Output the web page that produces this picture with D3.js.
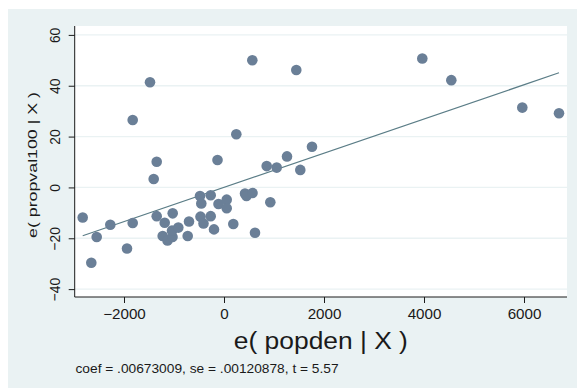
<!DOCTYPE html>
<html><head><meta charset="utf-8">
<script src="https://cdn.jsdelivr.net/npm/d3@7"></script>
<style>html,body{margin:0;padding:0;background:#fff;}svg{display:block;font-family:Arial,"Liberation Sans",Helvetica,sans-serif;}</style>
</head><body><svg id="c" width="577" height="388"></svg>
<script>
// residual of popden given X
const xResid = [-2826,-2546,-2654,-2274,-1940,-1826,-1826,-1480,-1406,-1346,-1346,-1186,-1226,-1130,-1030,-1040,-1026,-914,-726,-700,-480,-454,-470,-410,-266,-266,-200,-130,-110,54,54,186,246,420,450,570,566,620,926,854,1054,1260,1446,1526,1760,3966,4546,5966,6700];
// residual of propval100 given X
const yResid = [-11.8,-19.5,-29.6,-14.7,-24.0,-14.0,26.5,41.4,3.3,10.1,-11.3,-13.9,-19.1,-20.9,-19.5,-17.0,-10.2,-15.8,-19.1,-13.4,-3.4,-6.3,-11.5,-14.2,-3.1,-11.3,-16.5,10.8,-6.5,-4.8,-8.2,-14.4,20.9,-2.4,-3.4,-2.2,50.0,-17.8,-5.8,8.4,7.8,12.2,46.2,6.9,16.0,50.7,42.2,31.4,29.2];
const xTicks = [-2000,0,2000,4000,6000];
const yTicks = [-40,-20,0,20,40,60];
const coef = 0.00673009;
const xTitle = "e( popden | X )";
const yTitle = "e( propval100 | X )";
const noteText = "coef = .00673009, se = .00120878, t = 5.57";

const svg = d3.select("#c");
const L = 74.7, R = 567, T = 26, B = 297;
const SX = 1.1; // horizontal text stretch
const x = d3.scaleLinear().domain([-2986, 6860]).range([L, R]);
const y = d3.scaleLinear().domain([-43.1, 63.5]).range([B, T]);
const fmt = v => (v < 0 ? "\u2212" + Math.abs(v) : String(v));

svg.append("rect").attr("x", 8).attr("y", 9).attr("width", 569).attr("height", 379).attr("fill", "#eaf2f3");
svg.append("rect").attr("x", L).attr("y", T).attr("width", R - L).attr("height", B - T).attr("fill", "#ffffff");

// grid
svg.append("g").selectAll("line").data(yTicks).join("line")
  .attr("x1", L).attr("x2", R).attr("y1", d => y(d)).attr("y2", d => y(d))
  .attr("stroke", "#eaf2f3").attr("stroke-width", 1.3);

// x axis
const gx = svg.append("g").attr("transform", `translate(0,${B})`)
  .call(d3.axisBottom(x).tickValues(xTicks).tickSize(6).tickFormat(fmt));
gx.select(".domain").attr("stroke", "#1a1a1a").attr("d", `M${L},0H${R}`);
gx.selectAll(".tick line").attr("stroke", "#1a1a1a");
gx.selectAll(".tick text").remove();
gx.selectAll(".tick").append("text")
  .attr("transform", `translate(0,22.3) scale(${SX},1)`)
  .attr("text-anchor", "middle").attr("fill", "#1a1a1a")
  .attr("font-size", 13.8).text(d => fmt(d));

// y axis
const gy = svg.append("g").attr("transform", `translate(${L},0)`)
  .call(d3.axisLeft(y).tickValues(yTicks).tickSize(6).tickFormat(fmt));
gy.select(".domain").attr("stroke", "#1a1a1a").attr("d", `M0,${T}V${B}`);
gy.selectAll(".tick line").attr("stroke", "#1a1a1a");
gy.selectAll(".tick text").remove();
gy.selectAll(".tick").append("text")
  .attr("transform", `translate(-14.7,0) scale(${SX},1) rotate(-90)`)
  .attr("text-anchor", "middle").attr("fill", "#1a1a1a")
  .attr("font-size", 13.8).text(d => fmt(d));

// fit line
const xr = d3.extent(xResid);
svg.append("line")
  .attr("x1", x(xr[0])).attr("y1", y(coef * xr[0]))
  .attr("x2", x(xr[1])).attr("y2", y(coef * xr[1]))
  .attr("stroke", "#5b7d87").attr("stroke-width", 1.2);

// points
svg.append("g").selectAll("circle").data(xResid.map((v, i) => [v, yResid[i]])).join("circle")
  .attr("cx", d => x(d[0])).attr("cy", d => y(d[1])).attr("r", 5.3)
  .attr("fill", "#6a7f97");

// titles
svg.append("text").attr("transform", `translate(${(L + R) / 2},349.3) scale(${SX},1)`)
  .attr("text-anchor", "middle").attr("font-size", 24).attr("fill", "#1a1a1a").text(xTitle);
svg.append("text").attr("transform", `translate(37,165) rotate(-90)`)
  .attr("text-anchor", "middle").attr("font-size", 13.5).attr("fill", "#1a1a1a")
  .attr("textLength", 146).attr("lengthAdjust", "spacingAndGlyphs").text(yTitle);
svg.append("text").attr("transform", `translate(75.5,373.3) scale(${SX},1)`)
  .attr("font-size", 12.5).attr("fill", "#1a1a1a").text(noteText);
</script></body></html>
